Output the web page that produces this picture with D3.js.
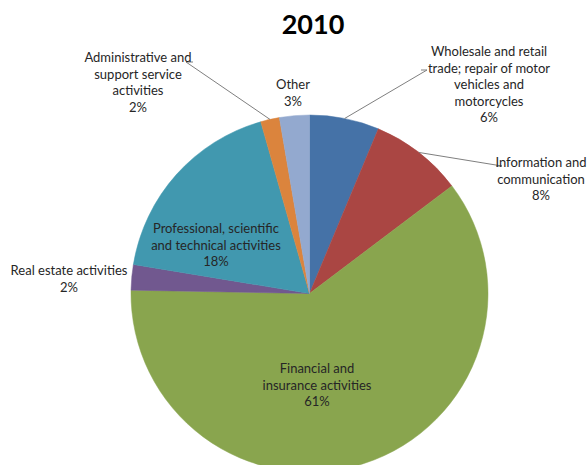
<!DOCTYPE html>
<html>
<head>
<meta charset="utf-8">
<script src="https://cdn.jsdelivr.net/npm/d3@7"></script>
<style>
  html, body { margin: 0; padding: 0; background: #fff; }
  svg { display: block; }
  text { font-family: Lato, "Open Sans", sans-serif; fill: #262626; }
</style>
</head>
<body>
<svg id="chart" width="588" height="465"></svg>
<script>
// Sector shares of the 2010 total, clockwise from 12 o'clock
const categories = [
  "Wholesale and retail trade; repair of motor vehicles and motorcycles",
  "Information and communication",
  "Financial and insurance activities",
  "Real estate activities",
  "Professional, scientific and technical activities",
  "Administrative and support service activities",
  "Other"
];
const values = [6.3, 8.4, 60.6, 2.3, 18.0, 1.7, 2.7];
const colors = ["#4572A7", "#AA4643", "#89A54E", "#71588F", "#4198AF", "#DB843D", "#93A9CF"];

// Label text lines (wrapped as drawn) and placement
const labelLines = [
  ["Wholesale and retail", "trade; repair of motor", "vehicles and", "motorcycles"],
  ["Information and", "communication"],
  ["Financial and", "insurance activities"],
  ["Real estate activities"],
  ["Professional, scientific", "and technical activities"],
  ["Administrative and", "support service", "activities"],
  ["Other"]
];
const labelPos = [
  { x: 489, y: 56 },
  { x: 541, y: 167 },
  { x: 317, y: 373 },
  { x: 69,  y: 275 },
  { x: 216, y: 233 },
  { x: 138, y: 62 },
  { x: 293, y: 89 }
];
// Leader lines: label-side end point and short horizontal tick
const leaders = [
  { x: 421, y: 70,  dx: -6 },
  { x: 496, y: 166, dx: -6 },
  null, null, null,
  { x: 193, y: 62,  dx: 7 },
  null
];

const svg = d3.select("#chart");
const cx = 309.5, cy = 293.5, r = 178.5;
const lineH = 16.5;

svg.append("text")
  .attr("x", 313).attr("y", 34)
  .attr("text-anchor", "middle")
  .style("font-size", "27px")
  .style("font-weight", "bold")
  .style("fill", "#000")
  .text("2010");

const total = d3.sum(values);
const pie = d3.pie().sort(null).value(d => d)(values);
const arc = d3.arc().innerRadius(0).outerRadius(r);

const g = svg.append("g").attr("transform", `translate(${cx},${cy})`);
g.selectAll("path.slice")
  .data(pie)
  .join("path")
  .attr("class", "slice")
  .attr("d", arc)
  .attr("fill", (d, i) => colors[i])
  .attr("stroke", (d, i) => colors[i])
  .attr("stroke-width", 0.5);

// Leader lines from the arc mid-point to the label
pie.forEach((d, i) => {
  const L = leaders[i];
  if (!L) return;
  const a = (d.startAngle + d.endAngle) / 2;
  const px = cx + r * Math.sin(a), py = cy - r * Math.cos(a);
  svg.append("polyline")
    .attr("points", `${px},${py} ${L.x - L.dx},${L.y} ${L.x},${L.y}`)
    .attr("fill", "none")
    .attr("stroke", "#7f7f7f")
    .attr("stroke-width", 1);
});

// Labels: category name lines plus rounded share
pie.forEach((d, i) => {
  const lines = labelLines[i].concat([Math.round(values[i] / total * 100) + "%"]);
  const t = svg.append("text")
    .attr("text-anchor", "middle")
    .style("font-size", "13px");
  lines.forEach((s, k) => {
    t.append("tspan")
      .attr("x", labelPos[i].x)
      .attr("y", labelPos[i].y + k * lineH)
      .text(s);
  });
});
</script>
</body>
</html>
